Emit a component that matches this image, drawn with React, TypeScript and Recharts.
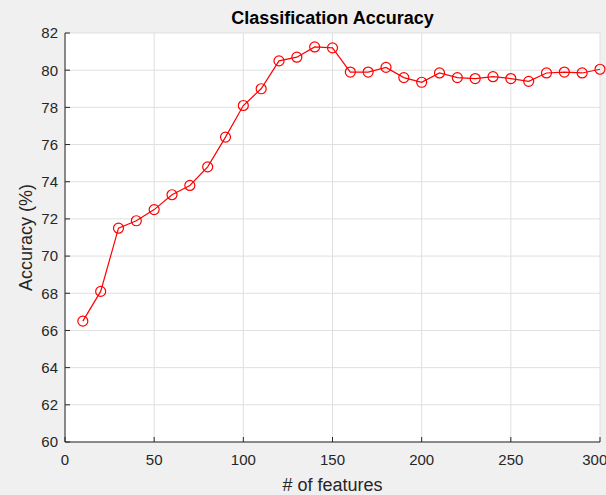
import { LineChart, Line, XAxis, YAxis, CartesianGrid } from 'recharts';

const FEATURES = [10, 20, 30, 40, 50, 60, 70, 80, 90, 100, 110, 120, 130, 140, 150, 160, 170, 180, 190, 200, 210, 220, 230, 240, 250, 260, 270, 280, 290, 300];
const ACCURACY = [66.5, 68.1, 71.5, 71.9, 72.5, 73.3, 73.8, 74.8, 76.4, 78.1, 79.0, 80.5, 80.7, 81.25, 81.2, 79.9, 79.9, 80.15, 79.6, 79.35, 79.85, 79.6, 79.55, 79.65, 79.55, 79.4, 79.85, 79.9, 79.85, 80.05];
const X_TICKS = [0, 50, 100, 150, 200, 250, 300];
const Y_TICKS = [60, 62, 64, 66, 68, 70, 72, 74, 76, 78, 80, 82];

const FONT = '"Liberation Sans", Arial, Helvetica, sans-serif';
const AXIS_COLOR = '#262626';
const RED = '#ff0000';

const data = FEATURES.map((x, i) => ({ x, acc: ACCURACY[i] }));

const tickStyle = { fill: AXIS_COLOR, fontSize: 15, fontFamily: FONT };

function YLabel({ viewBox }: any) {
  const cx = 26;
  const cy = viewBox.y + viewBox.height / 2;
  return (
    <text
      x={cx}
      y={cy}
      transform={`rotate(-90 ${cx} ${cy})`}
      textAnchor="middle"
      dominantBaseline="central"
      fill={AXIS_COLOR}
      fontSize={18}
      fontFamily={FONT}
    >
      Accuracy (%)
    </text>
  );
}

export default function App() {
  return (
    <div style={{ position: 'absolute', left: 0, top: 0, width: 606, height: 495, background: '#f0f0f0' }}>
      <div
        style={{
          position: 'absolute',
          left: 65,
          width: 535,
          top: 8,
          textAlign: 'center',
          fontFamily: FONT,
          fontWeight: 'bold',
          fontSize: 18,
          color: '#000',
        }}
      >
        Classification Accuracy
      </div>
      <LineChart width={606} height={495} data={data} margin={{ top: 33, right: 6, bottom: 8, left: 0 }}>
        <CartesianGrid stroke="#dfdfdf" fill="#ffffff" xAxisId="bottom" yAxisId="left" />
        <XAxis
          xAxisId="bottom"
          dataKey="x"
          type="number"
          domain={[0, 300]}
          ticks={X_TICKS}
          height={45}
          stroke={AXIS_COLOR}
          tick={tickStyle}
          tickSize={-5}
          tickMargin={17}
          label={{ value: '# of features', position: 'insideBottom', offset: -4, fill: AXIS_COLOR, fontSize: 18, fontFamily: FONT }}
        />
        <XAxis
          xAxisId="top"
          orientation="top"
          dataKey="x"
          type="number"
          domain={[0, 300]}
          ticks={X_TICKS}
          height={0}
          stroke={AXIS_COLOR}
          tick={false}
          tickSize={-5}
        />
        <YAxis
          yAxisId="left"
          type="number"
          domain={[60, 82]}
          ticks={Y_TICKS}
          width={65}
          stroke={AXIS_COLOR}
          tick={tickStyle}
          tickSize={-5}
          tickMargin={12}
          label={<YLabel />}
        />
        <YAxis
          yAxisId="right"
          orientation="right"
          type="number"
          domain={[60, 82]}
          ticks={Y_TICKS}
          width={0}
          stroke={AXIS_COLOR}
          tick={false}
          tickSize={-5}
        />
        <Line
          xAxisId="top"
          yAxisId="right"
          dataKey="acc"
          stroke="none"
          dot={false}
          activeDot={false}
          isAnimationActive={false}
        />
        <Line
          xAxisId="bottom"
          yAxisId="left"
          dataKey="acc"
          type="linear"
          stroke={RED}
          strokeWidth={1.2}
          dot={{ r: 5, stroke: RED, strokeWidth: 1.2, fill: 'none' }}
          activeDot={false}
          isAnimationActive={false}
        />
      </LineChart>
    </div>
  );
}
